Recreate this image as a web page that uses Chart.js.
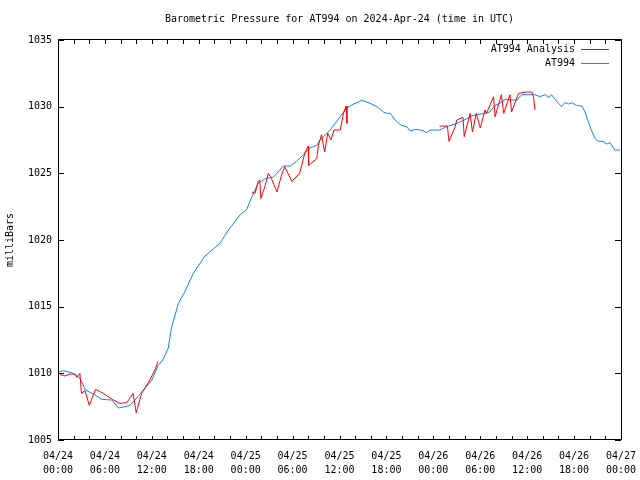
<!DOCTYPE html>
<html>
<head>
<meta charset="utf-8">
<script src="https://cdn.jsdelivr.net/npm/chart.js@4/dist/chart.umd.min.js"></script>
<style>
  html, body { margin: 0; padding: 0; background: #fff; }
  canvas { display: block; }
</style>
</head>
<body>
<canvas id="baro" width="640" height="480"></canvas>
<script>
"use strict"

// Часы от 04/24 00:00 UTC и давление (мбар)
const stationHours = [0, 0.7, 1.75, 2.8, 3.5, 4.7, 5.6, 6.9, 7.7, 8.6, 9.2, 9.85, 10.7, 12.0, 12.8, 13.4,
  14.1, 14.5, 15.4, 16.2, 17.3, 18.8, 19.4, 20.7, 21.8, 23.3, 24.1, 24.8, 25.6, 26.5, 27.5, 28.4, 28.8,
  29.7, 30.5, 31.4, 32.2, 33.1, 33.5, 34.4, 34.8, 36.1, 36.9, 37.8, 38.6, 38.8, 39.9, 40.8, 41.6, 42.1,
  42.5, 43.1, 43.9, 44.6, 45.0, 45.9, 46.7, 47.1, 47.6, 48.8, 49.7, 50.8, 51.6, 52.3, 52.9, 53.5, 54.6,
  55.2, 55.9, 56.5, 57.2, 57.8, 58.7, 59.3, 60.4, 61.0, 61.6, 62.3, 62.8, 63.1, 63.5, 64.0, 64.4, 64.8,
  65.3, 65.7, 66.3, 67.0, 67.4, 67.8, 68.2, 68.7, 69.1, 69.7, 70.2, 70.6, 71.2, 71.9]
const stationPressure = [1010.1, 1010.2, 1010.05, 1009.65, 1008.75, 1008.4, 1008.05, 1008.0, 1007.4, 1007.5,
  1007.6, 1008.0, 1008.6, 1009.5, 1010.6, 1011.0, 1011.9, 1013.4, 1015.25, 1016.1, 1017.5, 1018.8, 1019.1,
  1019.75, 1020.75, 1021.9, 1022.25, 1023.25, 1024.25, 1024.6, 1024.7, 1025.25, 1025.55, 1025.55, 1025.9,
  1026.4, 1026.9, 1027.1, 1027.5, 1028.0, 1028.25, 1029.25, 1029.9, 1030.2, 1030.4, 1030.5, 1030.25, 1030.0,
  1029.6, 1029.5, 1029.5, 1029.0, 1028.6, 1028.5, 1028.2, 1028.3, 1028.2, 1028.05, 1028.25, 1028.25, 1028.5,
  1028.7, 1028.9, 1029.1, 1029.3, 1029.4, 1029.5, 1029.6, 1030.1, 1030.25, 1030.55, 1030.5, 1030.5, 1030.9,
  1030.9, 1030.9, 1030.75, 1030.9, 1030.7, 1030.9, 1030.6, 1030.25, 1030.0, 1030.3, 1030.2, 1030.3, 1030.1,
  1030.05, 1029.6, 1028.9, 1028.25, 1027.6, 1027.4, 1027.4, 1027.2, 1027.3, 1026.75, 1026.75]

// Анализ (null = разрыв линии)
const analysisHours = [0.26, 0.9, 1.5, 2.2, 2.4, 2.8, 3.0, 3.45, 4.0, 4.8, 5.8, 6.4, 7.1, 7.9, 8.8, 9.6, 10.0,
  10.7, 11.5, 12.4, 12.8, 18,
  24.8, 25.2, 25.6, 25.8, 25.95, 26.5, 26.9, 27.3, 28.0, 28.6, 29.0, 29.9, 30.9, 31.6, 32.0, 32.05, 33.1,
  33.3, 33.7, 34.1, 34.5, 34.9, 35.3, 36.1, 36.5, 36.85, 36.95, 42,
  48.8, 49.8, 50.0, 50.8, 51.0, 51.8, 51.95, 52.7, 53.0, 53.5, 54.0, 54.6, 54.8, 55.7, 55.9, 56.7, 57.0,
  57.8, 58.0, 58.9, 59.9, 60.6, 60.8, 61.0]
const analysisPressure = [1009.9, 1009.8, 1009.95, 1009.95, 1009.7, 1010.0, 1008.5, 1008.7, 1007.6, 1008.8,
  1008.5, 1008.25, 1008.0, 1007.75, 1007.8, 1008.5, 1007.05, 1008.5, 1009.25, 1010.25, 1010.9, null,
  1023.6, 1023.5, 1024.4, 1024.5, 1023.1, 1024.1, 1025.0, 1024.6, 1023.6, 1024.9, 1025.5, 1024.4, 1025.0,
  1026.6, 1027.05, 1025.6, 1026.1, 1027.1, 1027.9, 1026.6, 1028.0, 1027.5, 1028.25, 1028.25, 1029.5,
  1030.05, 1028.75, null,
  1028.55, 1028.55, 1027.4, 1028.5, 1029.0, 1029.2, 1027.75, 1029.5, 1028.1, 1029.5, 1028.4, 1029.75,
  1029.5, 1030.75, 1029.25, 1030.9, 1029.5, 1030.9, 1029.6, 1031.0, 1031.1, 1031.1, 1030.75, 1029.75]

const xTickDates = ["04/24", "04/24", "04/24", "04/24", "04/25", "04/25", "04/25", "04/25",
  "04/26", "04/26", "04/26", "04/26", "04/27"]
const xTickTimes = ["00:00", "06:00", "12:00", "18:00", "00:00", "06:00", "12:00", "18:00",
  "00:00", "06:00", "12:00", "18:00", "00:00"]

const chartTitle = "Barometric Pressure for AT994 on 2024-Apr-24 (time in UTC)"
const monoFont = "'DejaVu Sans Mono', 'Liberation Mono', monospace"

function toPoints(xs, ys) {
  return xs.map((x, i) => ({ x: x, y: ys[i] }))
}

// Рамка, засечки внутрь, заголовок и легенда в стиле gnuplot
const gnuplotFrame = {
  id: "gnuplotFrame",
  afterDraw(chart) {
    const ctx = chart.ctx
    const a = chart.chartArea
    const xs = chart.scales.x, ys = chart.scales.y
    ctx.save()
    ctx.strokeStyle = "#000"
    ctx.lineWidth = 1
    ctx.strokeRect(Math.round(a.left) + 0.5, Math.round(a.top) - 0.5,
      Math.round(a.right - a.left), Math.round(a.bottom - a.top))
    ctx.beginPath()
    for (let h = 0; h <= 72; h += 2) {
      const px = Math.round(xs.getPixelForValue(h)) + 0.5
      ctx.moveTo(px, a.bottom); ctx.lineTo(px, a.bottom - 4)
      ctx.moveTo(px, a.top); ctx.lineTo(px, a.top + 4)
    }
    for (let v = 1005; v <= 1035; v += 5) {
      const py = Math.round(ys.getPixelForValue(v)) + 0.5
      ctx.moveTo(a.left, py); ctx.lineTo(a.left + 6, py)
      ctx.moveTo(a.right, py); ctx.lineTo(a.right - 6, py)
    }
    ctx.stroke()

    ctx.fillStyle = "#000"
    ctx.font = "10px " + monoFont
    ctx.textAlign = "center"
    ctx.textBaseline = "middle"
    ctx.fillText(chartTitle, (a.left + a.right) / 2, 19)

    // легенда
    ctx.textAlign = "right"
    chart.data.datasets.forEach((ds, i) => {
      const y = 49 + i * 14
      ctx.fillText(ds.label, a.right - 46, y)
      ctx.strokeStyle = ds.borderColor
      ctx.beginPath()
      ctx.moveTo(a.right - 40, y + 0.5)
      ctx.lineTo(a.right - 12, y + 0.5)
      ctx.stroke()
    })
    ctx.restore()
  }
}

new Chart(document.getElementById("baro"), {
  type: "line",
  data: {
    datasets: [{
      label: "AT994 Analysis",
      data: toPoints(analysisHours, analysisPressure),
      borderColor: "#ff0000",
      borderWidth: 1,
      pointRadius: 0,
      spanGaps: false,
      order: 0
    }, {
      label: "AT994",
      data: toPoints(stationHours, stationPressure),
      borderColor: "#0a84ff",
      borderWidth: 1,
      pointRadius: 0,
      order: 1
    }]
  },
  options: {
    responsive: false,
    animation: false,
    layout: { padding: { top: 40, right: 19, left: 0, bottom: 0 } },
    scales: {
      x: {
        type: "linear",
        min: 0,
        max: 72,
        afterFit: scale => {
          scale.height = 40
          scale.paddingLeft = 0
          scale.paddingRight = 0
        },
        grid: { display: false, drawTicks: false },
        border: { display: false },
        afterBuildTicks: scale => {
          scale.ticks = xTickDates.map((d, i) => ({ value: i * 6 }))
        },
        ticks: {
          autoSkip: false,
          maxRotation: 0,
          padding: 9,
          color: "#000",
          font: { family: monoFont, size: 10, lineHeight: 1.4 },
          callback: (v, i) => [xTickDates[i], xTickTimes[i]]
        }
      },
      y: {
        min: 1005,
        max: 1035,
        afterFit: scale => {
          scale.width = 58
          scale.paddingTop = 0
          scale.paddingBottom = 0
        },
        grid: { display: false, drawTicks: false },
        border: { display: false },
        title: {
          display: true,
          text: "milliBars",
          color: "#000",
          font: { family: monoFont, size: 10 },
          padding: { top: 4, bottom: 0 }
        },
        ticks: {
          stepSize: 5,
          padding: 6,
          color: "#000",
          font: { family: monoFont, size: 10 },
          callback: v => String(v)
        }
      }
    },
    plugins: {
      legend: { display: false },
      title: { display: false },
      tooltip: { enabled: false }
    }
  },
  plugins: [gnuplotFrame]
})
</script>
</body>
</html>
